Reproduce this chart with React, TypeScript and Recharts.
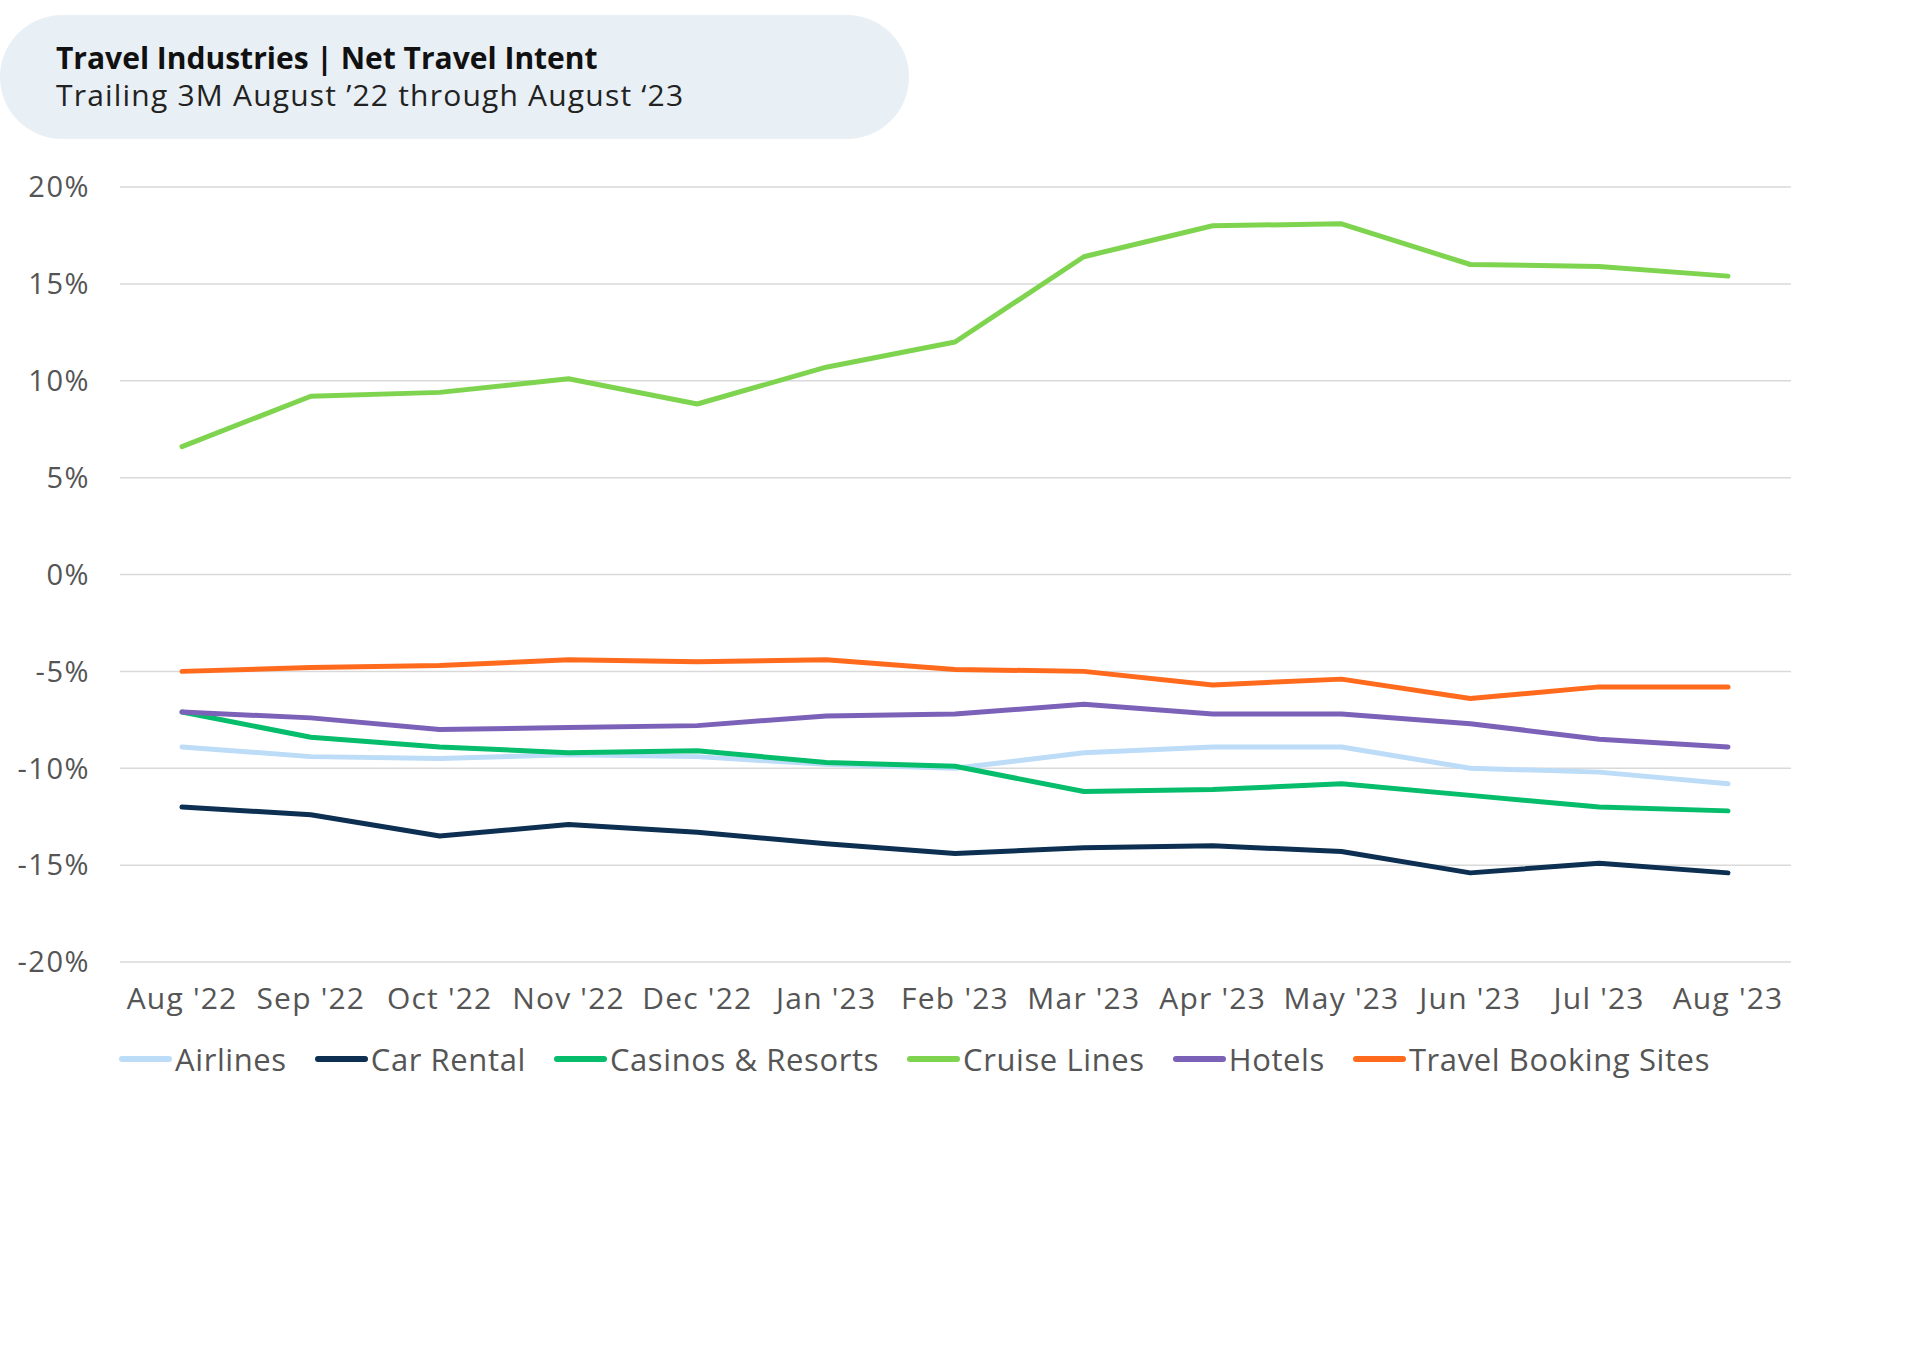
import React from "react";
import {
    LineChart,
    Line,
    XAxis,
    YAxis,
    CartesianGrid,
    Legend,
} from "recharts";

// month labels
const months = [
    "Aug '22", "Sep '22", "Oct '22", "Nov '22", "Dec '22", "Jan '23", "Feb '23",
    "Mar '23", "Apr '23", "May '23", "Jun '23", "Jul '23", "Aug '23",
];

// net travel intent, %
const airlines = [-8.9, -9.4, -9.5, -9.3, -9.4, -9.8, -10.0, -9.2, -8.9, -8.9, -10.0, -10.2, -10.8];
const carRental = [-12.0, -12.4, -13.5, -12.9, -13.3, -13.9, -14.4, -14.1, -14.0, -14.3, -15.4, -14.9, -15.4];
const casinos = [-7.1, -8.4, -8.9, -9.2, -9.1, -9.7, -9.9, -11.2, -11.1, -10.8, -11.4, -12.0, -12.2];
const cruiseLines = [6.6, 9.2, 9.4, 10.1, 8.8, 10.7, 12.0, 16.4, 18.0, 18.1, 16.0, 15.9, 15.4];
const hotels = [-7.1, -7.4, -8.0, -7.9, -7.8, -7.3, -7.2, -6.7, -7.2, -7.2, -7.7, -8.5, -8.9];
const bookingSites = [-5.0, -4.8, -4.7, -4.4, -4.5, -4.4, -4.9, -5.0, -5.7, -5.4, -6.4, -5.8, -5.8];

const yTicks = [-20, -15, -10, -5, 0, 5, 10, 15, 20];

const series = [
    { key: "airlines", name: "Airlines", values: airlines, color: "#bcdcf8" },
    { key: "carRental", name: "Car Rental", values: carRental, color: "#0c2f52" },
    { key: "casinos", name: "Casinos & Resorts", values: casinos, color: "#05bd6b" },
    { key: "cruise", name: "Cruise Lines", values: cruiseLines, color: "#7fd44f" },
    { key: "hotels", name: "Hotels", values: hotels, color: "#7b62b8" },
    { key: "booking", name: "Travel Booking Sites", values: bookingSites, color: "#ff6a1d" },
];

const data = months.map((m, i) => {
    const row: Record<string, string | number> = { month: m };
    series.forEach((s) => {
        row[s.key] = s.values[i];
    });
    return row;
});

const FONT = "'Open Sans', 'DejaVu Sans', sans-serif";

const LegendContent = () => (
    <div
        style={{
            display: "flex",
            alignItems: "center",
            height: 40,
            paddingLeft: 119,
            fontFamily: FONT,
            fontSize: 31,
            letterSpacing: 0.6,
            color: "#555",
        }}
    >
        {series.map((s) => (
            <div
                key={s.key}
                style={{ display: "flex", alignItems: "center", marginRight: 28 }}
            >
                <div
                    style={{
                        width: 53,
                        height: 6,
                        borderRadius: 3,
                        background: s.color,
                        marginRight: 3,
                    }}
                />
                <span style={{ whiteSpace: "nowrap" }}>{s.name}</span>
            </div>
        ))}
    </div>
);

const App = () => {
    return (
        <div
            style={{
                position: "absolute",
                left: 0,
                top: 0,
                width: 1920,
                height: 1369,
                background: "#fff",
                fontFamily: FONT,
            }}
        >
            {/* title pill */}
            <div
                style={{
                    position: "absolute",
                    left: 0,
                    top: 15,
                    width: 909,
                    height: 124,
                    borderRadius: 62,
                    background: "#e8eff5",
                }}
            >
                <div
                    style={{
                        position: "absolute",
                        left: 56,
                        top: 24,
                        fontSize: 30,
                        fontWeight: 700,
                        color: "#111",
                        lineHeight: "37px",
                        whiteSpace: "nowrap",
                    }}
                >
                    Travel Industries | Net Travel Intent
                </div>
                <div
                    style={{
                        position: "absolute",
                        left: 56,
                        top: 61,
                        fontSize: 30,
                        letterSpacing: 1.2,
                        color: "#222",
                        lineHeight: "37px",
                        whiteSpace: "nowrap",
                    }}
                >
                    Trailing 3M August ’22 through August ‘23
                </div>
            </div>

            <div style={{ position: "absolute", left: 0, top: 0 }}>
                <LineChart
                    width={1920}
                    height={1110}
                    data={data}
                    margin={{ top: 187, right: 129, left: 0, bottom: 31 }}
                >
                    <CartesianGrid
                        vertical={false}
                        stroke="#d9d9d9"
                        strokeWidth={1.5}
                    />
                    <XAxis
                        dataKey="month"
                        axisLine={false}
                        tickLine={false}
                        tickSize={0}
                        tickMargin={26}
                        height={77}
                        padding={{ left: 62, right: 63 }}
                        interval={0}
                        tick={{ fontSize: 30, fill: "#555", fontFamily: FONT, letterSpacing: 1.2 }}
                    />
                    <YAxis
                        domain={[-20, 20]}
                        ticks={yTicks}
                        width={120}
                        axisLine={false}
                        tickLine={false}
                        tickSize={0}
                        tickMargin={30}
                        tickFormatter={(v) => `${v}%`}
                        tick={{ fontSize: 29, fill: "#555", fontFamily: FONT, letterSpacing: 1.5 }}
                    />
                    <Legend
                        verticalAlign="bottom"
                        align="left"
                        content={<LegendContent />}
                    />
                    {series.map((s) => (
                        <Line
                            key={s.key}
                            type="linear"
                            dataKey={s.key}
                            name={s.name}
                            stroke={s.color}
                            strokeWidth={5}
                            strokeLinecap="round"
                            strokeLinejoin="round"
                            dot={false}
                            activeDot={false}
                            isAnimationActive={false}
                        />
                    ))}
                </LineChart>
            </div>
        </div>
    );
};

export default App;
